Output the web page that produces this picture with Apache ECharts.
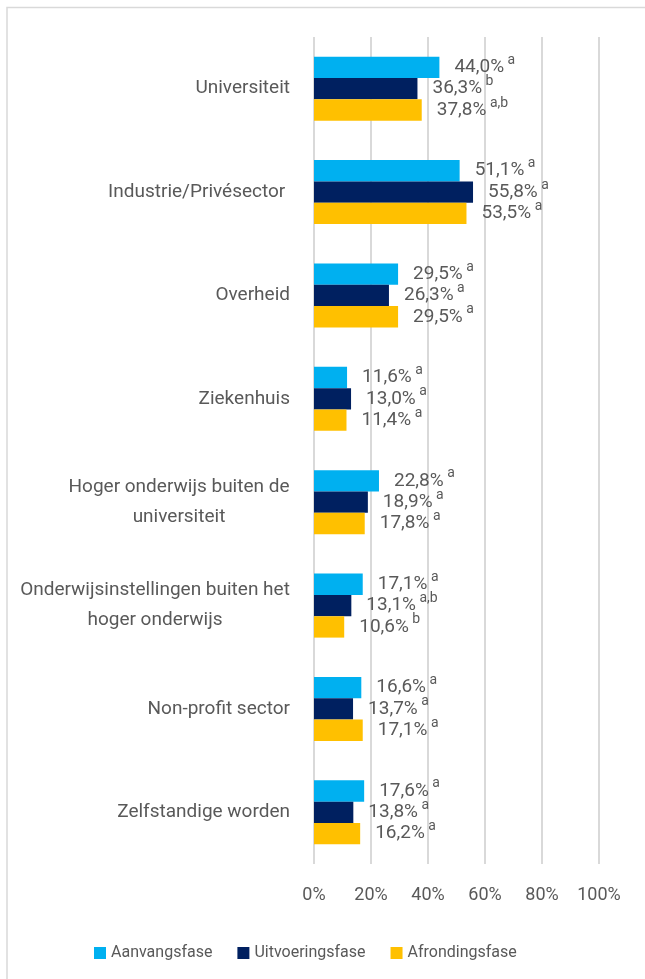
<!DOCTYPE html>
<html>
<head>
<meta charset="utf-8" />
<title>Sector</title>
<script src="https://cdn.jsdelivr.net/npm/echarts@6/dist/echarts.min.js"></script>
<style>
  html, body { margin: 0; padding: 0; background: #ffffff; }
  #main { width: 645px; height: 979px; }
</style>
</head>
<body>
<div id="main"></div>
<script type="text/javascript">
    // categorieen, van boven naar beneden
    var categories = [
        'Universiteit',
        'Industrie/Privésector ',
        'Overheid',
        'Ziekenhuis',
        'Hoger onderwijs buiten de universiteit',
        'Onderwijsinstellingen buiten het hoger onderwijs',
        'Non-profit sector',
        'Zelfstandige worden'
    ];
    var seriesNames = ['Aanvangsfase', 'Uitvoeringsfase', 'Afrondingsfase'];

    var aanvangsfase    = [44.0, 51.1, 29.5, 11.6, 22.8, 17.1, 16.6, 17.6];
    var uitvoeringsfase = [36.3, 55.8, 26.3, 13.0, 18.9, 13.1, 13.7, 13.8];
    var afrondingsfase  = [37.8, 53.5, 29.5, 11.4, 17.8, 10.6, 17.1, 16.2];

    // superscript letters
    var supAanvang    = ['a', 'a', 'a', 'a', 'a', 'a', 'a', 'a'];
    var supUitvoering = ['b', 'a', 'a', 'a', 'a', 'a,b', 'a', 'a'];
    var supAfronding  = ['a,b', 'a', 'a', 'a', 'a', 'b', 'a', 'a'];

    var xTicks = [0, 20, 40, 60, 80, 100];

    var colors = ['#00B0F0', '#002060', '#FFC000'];
    var textColor = '#595959';
    var font = "Roboto, sans-serif";
    var catFontSize = 19;

    var allValues = [aanvangsfase, uitvoeringsfase, afrondingsfase];
    var allSups = [supAanvang, supUitvoering, supAfronding];

    // labels afbreken zoals in Excel
    function wrap(name, max) {
        var words = name.split(' ');
        var lines = [];
        var cur = '';
        words.forEach(function (w) {
            if (cur && (cur + ' ' + w).length > max) {
                lines.push(cur);
                cur = w;
            } else {
                cur = cur ? cur + ' ' + w : w;
            }
        });
        if (cur) lines.push(cur);
        return lines;
    }

    var ctx = document.createElement('canvas').getContext('2d');
    ctx.font = catFontSize + 'px ' + font;
    var catRich = {};
    var catText = categories.map(function (c, i) {
        var lines = wrap(c, 32);
        if (lines.length === 1) return c;
        var w = 0;
        lines.forEach(function (l) { w = Math.max(w, ctx.measureText(l).width); });
        catRich['c' + i] = {
            width: Math.ceil(w),
            align: 'center',
            fontSize: catFontSize,
            fontFamily: font,
            color: textColor,
            lineHeight: 30
        };
        return lines.map(function (l) { return '{c' + i + '|' + l + '}'; }).join('\n');
    });

    var myChart = echarts.init(document.getElementById('main'));

    var series = seriesNames.map(function (name, si) {
        return {
            name: name,
            type: 'bar',
            data: allValues[si],
            barGap: '0%',
            barCategoryGap: '38%',
            itemStyle: { color: colors[si] },
            label: {
                show: true,
                position: 'right',
                distance: 15,
                formatter: function (p) {
                    var v = p.value.toFixed(1).replace('.', ',') + '%';
                    return '{v|' + v + '}{s| ' + allSups[si][p.dataIndex] + '}';
                },
                rich: {
                    v: { fontSize: 19, fontFamily: font, color: textColor, lineHeight: 28 },
                    s: { fontSize: 14, fontFamily: font, color: textColor, lineHeight: 15, verticalAlign: 'top' }
                }
            }
        };
    });

    var option = {
        animation: false,
        backgroundColor: '#ffffff',
        textStyle: { fontFamily: font },
        graphic: [{
            type: 'rect',
            shape: { x: 7, y: 7.5, width: 700, height: 1000 },
            style: { fill: 'none', stroke: '#D9D9D9', lineWidth: 1.5 },
            silent: true
        }],
        grid: { left: 314, right: 46, top: 37, bottom: 115, outerBoundsMode: 'none' },
        legend: {
            data: seriesNames,
            left: 89,
            top: 940,
            icon: 'rect',
            itemWidth: 12,
            itemHeight: 12,
            itemGap: 25,
            textStyle: { fontSize: 16, color: textColor, fontFamily: font }
        },
        xAxis: {
            type: 'value',
            min: xTicks[0],
            max: xTicks[xTicks.length - 1],
            interval: 20,
            axisLine: { show: false },
            axisTick: { show: false },
            axisLabel: {
                formatter: '{value}%',
                fontSize: 18,
                color: textColor,
                fontFamily: font,
                margin: 22
            },
            splitLine: { lineStyle: { color: '#D9D9D9', width: 2 } }
        },
        yAxis: {
            type: 'category',
            inverse: true,
            data: categories,
            axisLine: { show: false },
            axisTick: { show: false },
            axisLabel: {
                margin: 24,
                fontSize: catFontSize,
                color: textColor,
                fontFamily: font,
                lineHeight: 30,
                formatter: function (val, idx) { return catText[idx]; },
                rich: catRich
            }
        },
        series: series
    };
    myChart.setOption(option);
</script>
</body>
</html>
